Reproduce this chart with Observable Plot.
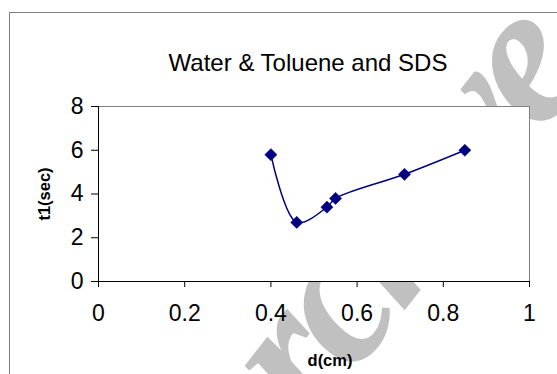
<!DOCTYPE html>
<html>
<head>
<meta charset="utf-8">
<script src="https://cdn.jsdelivr.net/npm/d3@7"></script>
<script src="https://cdn.jsdelivr.net/npm/@observablehq/plot@0.6"></script>
<style>
  html, body { margin: 0; padding: 0; background: #fff; }
  svg { display: block; }
</style>
</head>
<body>
<div id="chart"></div>
<script>
const title = "Water & Toluene and SDS";
const xLabel = "d(cm)";
const yLabel = "t1(sec)";
const dValues = [0.40, 0.46, 0.53, 0.55, 0.71, 0.85];
const t1Values = [5.8, 2.7, 3.4, 3.8, 4.9, 6.0];
const xTicks = [0, 0.2, 0.4, 0.6, 0.8, 1];
const yTicks = [0, 2, 4, 6, 8];

const data = dValues.map((d, i) => ({d, t: t1Values[i]}));
const navy = "#000080";

const W = 557, H = 374;
const plot = Plot.plot({
  width: W,
  height: H,
  marginLeft: 98,
  marginRight: 28,
  marginTop: 106,
  marginBottom: 93,
  style: {fontFamily: "Liberation Sans, Arial, sans-serif", background: "transparent"},
  x: {domain: [0, 1], ticks: xTicks, label: null},
  y: {domain: [0, 8], ticks: yTicks, label: null},
  marks: [
    Plot.frame({stroke: "#808080", strokeWidth: 1, fill: "#fff"}),
    Plot.axisX({ticks: xTicks, tickSize: 6, tickPadding: 17, fontSize: 23, stroke: "#000", color: "#000", tickFormat: d => String(d), label: null}),
    Plot.axisY({ticks: yTicks, tickSize: 7, tickPadding: 8, fontSize: 23, stroke: "#000", color: "#000", label: null}),
    Plot.ruleY([0], {stroke: "#000", strokeWidth: 1}),
    Plot.ruleX([0], {stroke: "#000", strokeWidth: 1}),
    Plot.line(data, {x: "d", y: "t", stroke: navy, strokeWidth: 1.5, curve: "catmull-rom"}),
    Plot.dot(data, {x: "d", y: "t", symbol: "diamond2", r: 5.5, fill: navy, stroke: navy, strokeWidth: 0.5}),
    Plot.text([title], {frameAnchor: "top", lineAnchor: "middle", dy: -43, dx: -6, fontSize: 24, fill: "#000", text: d => d}),
    Plot.text([xLabel], {frameAnchor: "bottom", lineAnchor: "middle", dy: 79, dx: 16, fontSize: 16.5, fontWeight: "bold", fill: "#000", text: d => d}),
    Plot.text([yLabel], {frameAnchor: "left", textAnchor: "middle", lineAnchor: "middle", dx: -54, rotate: -90, fontSize: 16.5, fontWeight: "bold", fill: "#000", text: d => d})
  ]
});

const svg = d3.select(plot);
// watermark: behind the chart, hidden by the white plot area, clipped to the chart area
const clipId = "chartAreaClip";
svg.insert("defs", ":first-child")
  .append("clipPath").attr("id", clipId)
  .append("rect").attr("x", 10).attr("y", 13).attr("width", 600).attr("height", 420);
svg.insert("g", "defs + *")
  .attr("clip-path", `url(#${clipId})`)
  .append("text")
  .attr("transform", "translate(236,526) rotate(-52)")
  .attr("text-anchor", "start")
  .attr("font-family", "Liberation Serif, DejaVu Serif, serif")
  .attr("font-style", "italic")
  .attr("font-weight", "bold")
  .attr("font-size", 200)
  .attr("letter-spacing", -10)
  .attr("fill", "#c0c0c0")
  .text("Archive");
// outer chart border
svg.append("rect")
  .attr("x", 9.5).attr("y", 12.5)
  .attr("width", 600).attr("height", 420)
  .attr("fill", "none").attr("stroke", "#808080").attr("stroke-width", 1);

document.getElementById("chart").appendChild(plot);
</script>
</body>
</html>
